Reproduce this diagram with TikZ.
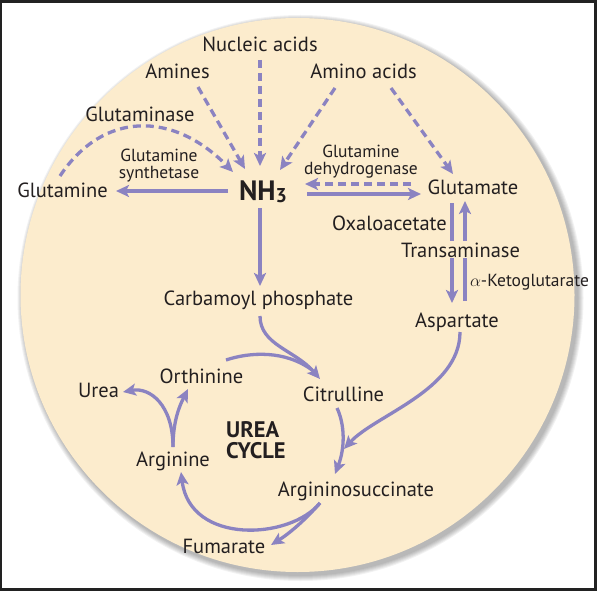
\documentclass[tikz,border=0pt]{standalone}
\usepackage{fontspec}
\setmainfont{PT Sans}
\usetikzlibrary{arrows.meta,calc}
\definecolor{cream}{RGB}{252,236,205}
\definecolor{flowcol}{RGB}{139,131,193}
\definecolor{ink}{RGB}{35,31,32}
\definecolor{framecol}{RGB}{34,34,34}
\tikzset{
    every node/.style={text=ink, inner sep=1pt, font=\fontsize{20.5}{22}\selectfont}
}
\tikzset{
    enzyme/.style={font=\fontsize{17.5}{17}\selectfont, align=center}
}
\tikzset{
    flow/.style={draw=flowcol, line width=3.3pt,
    	-{Stealth[length=13pt,width=12pt,inset=3pt]}},
    dflow/.style={flow, dash pattern=on 8pt off 5pt}
}
\pgfdeclarelayer{back}
\pgfdeclarelayer{arrows}
\pgfsetlayers{back,arrows,main}

\begin{document}
\begin{tikzpicture}[x=1pt, y=-1pt]
	\useasboundingbox (0,0) rectangle (597,591);
	\begin{pgfonlayer}{back}
	\fill[framecol] (0,0) rectangle (597,591);
	\fill[white] (2,3) rectangle (594,588);
	\foreach \s in {1,...,6}
		\fill[black, opacity=0.05] (300.5,298) circle (277+\s);
	\fill[cream] (297.5,295) circle (277);
	\end{pgfonlayer}

	\node (nuc) [anchor=base] at (260,52) {Nucleic acids};
	\node (amines) [anchor=base] at (177.5,79) {Amines};
	\node (amino) [anchor=base] at (363.5,79) {Amino acids};
	\node (glnase) [anchor=base] at (140,122) {Glutaminase};
	\node (synth) [enzyme] at (159,166) {Glutamine\\synthetase};
	\node (gln) [anchor=base] at (62.5,197) {Glutamine};
	\node (nh3) [anchor=base, font=\fontsize{28}{30}\selectfont\bfseries]
		at (263,200) {NH\raisebox{-2pt}{\fontsize{20}{20}\selectfont 3}};
	\node (dehyd) [enzyme] at (361,162) {Glutamine\\dehydrogenase};
	\node (glu) [anchor=base] at (473,194) {Glutamate};
	\node (oxalo) [anchor=base] at (389.5,230) {Oxaloacetate};
	\node (trans) [anchor=base, fill=cream] at (460.5,257) {Transaminase};
	\node (keto) [anchor=base, enzyme] at (529.5,286) {$\alpha$-Ketoglutarate};
	\node (carb) [anchor=base] at (258.5,305) {Carbamoyl phosphate};
	\node (asp) [anchor=base] at (457,327) {Aspartate};
	\node (orn) [anchor=base] at (201.5,383) {Orthinine};
	\node (urea) [anchor=base] at (98.5,397) {Urea};
	\node (cit) [anchor=base] at (343.5,401) {Citrulline};
	\node (cycle) [anchor=west, align=left,
		font=\fontsize{22.5}{21}\selectfont\bfseries] at (225,440) {UREA\\CYCLE};
	\node (arg) [anchor=base] at (173,466) {Arginine};
	\node (argsuc) [anchor=base] at (356,496) {Argininosuccinate};
	\node (fum) [anchor=base] at (224,553) {Fumarate};

	\begin{pgfonlayer}{arrows}
	% sources of ammonia
	\draw[dflow] ($(nuc.base)+(0,8)$) -- ($(nh3.base)+(-3,-34)$);
	\draw[dflow] ($(amines.base)+(20.5,8)$) -- ($(nh3.base)+(-18,-31)$);
	\draw[dflow] ($(amino.base)+(-28.5,9)$) -- ($(nh3.base)+(17,-30)$);
	\draw[dflow] ($(amino.base)+(27.5,9)$) -- ($(glu.base)+(-20,-20)$);
	\draw[dflow] ($(gln.base)+(-2.5,-21)$) .. controls +(43,-65) and +(-60,-61)
		.. ($(nh3.base)+(-30,-28)$);
	% glutamine / glutamate
	\draw[flow] ($(nh3.base)+(-35,-9)$) -- ($(gln.base)+(53.5,-6)$);
	\draw[flow] ($(nh3.base)+(44,-6)$) -- ($(glu.base)+(-52,0)$);
	\draw[dflow] ($(glu.base)+(-62,-10)$) -- ($(nh3.base)+(42,-16)$);
	\draw[flow] ($(glu.base)+(-21,9)$) -- ($(asp.base)+(-5,-24)$);
	\draw[flow] ($(asp.base)+(8,-26)$) -- ($(glu.base)+(-8,7)$);
	% urea cycle
	\draw[flow] ($(nh3.base)+(-3,8)$) -- ($(carb.base)+(1.5,-19)$);
	\draw[flow] ($(carb.base)+(1.5,11)$) .. controls +(0,29) and +(-25,-29)
		.. ($(cit.base)+(-23.5,-22)$);
	\draw[flowcol, line width=3.3pt] ($(orn.base)+(24.5,-23)$)
		.. controls +(24,-8) and +(-27,-20) .. ($(cit.base)+(-31.5,-31)$);
	\draw[flow] ($(cit.base)+(-6.5,7)$) .. controls +(8,17) and +(10,-26)
		.. ($(argsuc.base)+(-21,-22)$);
	\draw[flow] ($(asp.base)+(3,5)$) .. controls +(0,58) and +(31,-34)
		.. ($(argsuc.base)+(-12,-47)$);
	\draw[flow] ($(argsuc.base)+(-36,7)$) .. controls +(-30,37) and +(9,73)
		.. ($(arg.base)+(8,6)$);
	\draw[flow] ($(argsuc.base)+(-36,7)$) .. controls +(-15,17) and +(19,-12)
		.. ($(fum.base)+(47,-8)$);
	\draw[flow] ($(arg.base)+(0,-19)$) .. controls +(0,-27) and +(-8,16)
		.. ($(orn.base)+(-13.5,6)$);
	\draw[flow] ($(arg.base)+(0,-19)$) .. controls +(0,-42) and +(27,-5)
		.. ($(urea.base)+(24.5,-5)$);
	\end{pgfonlayer}
\end{tikzpicture}
\end{document}
